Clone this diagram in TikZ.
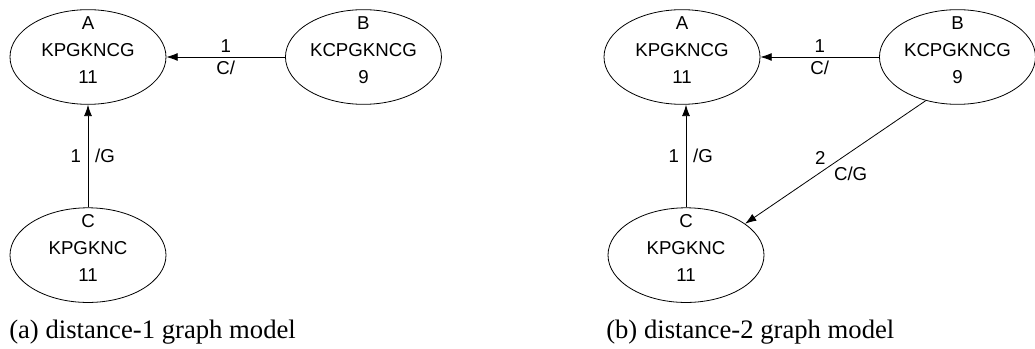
\documentclass[tikz,border=0pt]{standalone}
\usepackage{fontspec}
\setmainfont{Liberation Serif}
\setsansfont{Liberation Sans}
\usepackage{tikz}
\usetikzlibrary{positioning,shapes.geometric,arrows.meta}

\tikzset{
  stato/.style={ellipse, draw, line width=0.6pt, minimum width=117pt, minimum height=71pt,
    inner xsep=0pt, inner ysep=-6pt, align=center, font=\sffamily\fontsize{14}{20}\selectfont},
  freccia/.style={draw, line width=0.6pt, -{Latex[length=8.5pt,width=6pt]}},
  etic/.style={font=\sffamily\fontsize{14}{17}\selectfont, inner sep=3pt},
  didascalia/.style={anchor=base west, inner sep=0pt, font=\fontsize{20}{24}\selectfont}
}

\begin{document}
\begin{tikzpicture}[x=0.75pt, y=-0.75pt]
  \useasboundingbox (0,0) rectangle (1035,349);

  % (a) modello a distanza 1
  \node[stato] (A) at (88,57) {A\\KPGKNCG\\11\\[-9.4pt]\mbox{}};
  \node[stato, right=89pt of A] (B) {B\\KCPGKNCG\\9\\[-9.4pt]\mbox{}};
  \node[stato, below=77pt of A] (C) {C\\KPGKNC\\11\\[-9.4pt]\mbox{}};

  \draw[freccia] (B) -- node[etic, above] (ba1) {1} node[etic, below] (ba2) {C/} (A);
  \draw[freccia] (C) -- node[etic, left=2pt] (ca1) {1} node[etic, right=2pt] (ca2) {/G} (A);

  \node[didascalia] (capA) at (9,338) {(a) distance-1 graph model};

  % (b) modello a distanza 2
  \node[stato] (A2) at (682,57) {A\\KPGKNCG\\11\\[-9.4pt]\mbox{}};
  \node[stato, right=89pt of A2] (B2) {B\\KCPGKNCG\\9\\[-9.4pt]\mbox{}};
  \node[stato, below=77pt of A2, xshift=3pt] (C2) {C\\KPGKNC\\11\\[-9.4pt]\mbox{}};

  \draw[freccia] (B2) -- node[etic, above] (ba3) {1} node[etic, below] (ba4) {C/} (A2);
  \draw[freccia] (C2.north) -- node[etic, left=2pt] (ca3) {1} node[etic, right=2pt] (ca4) {/G} (C2.north |- A2.south);
  \draw[freccia] (B2.234) -- node[etic, pos=0.54, above left, inner sep=1.8pt] (bc1) {2}
    node[etic, pos=0.52, below right, inner sep=1.4pt] (bc2) {C/G} (C2.28);

  \node[didascalia] (capB) at (606,338) {(b) distance-2 graph model};
\end{tikzpicture}
\end{document}
